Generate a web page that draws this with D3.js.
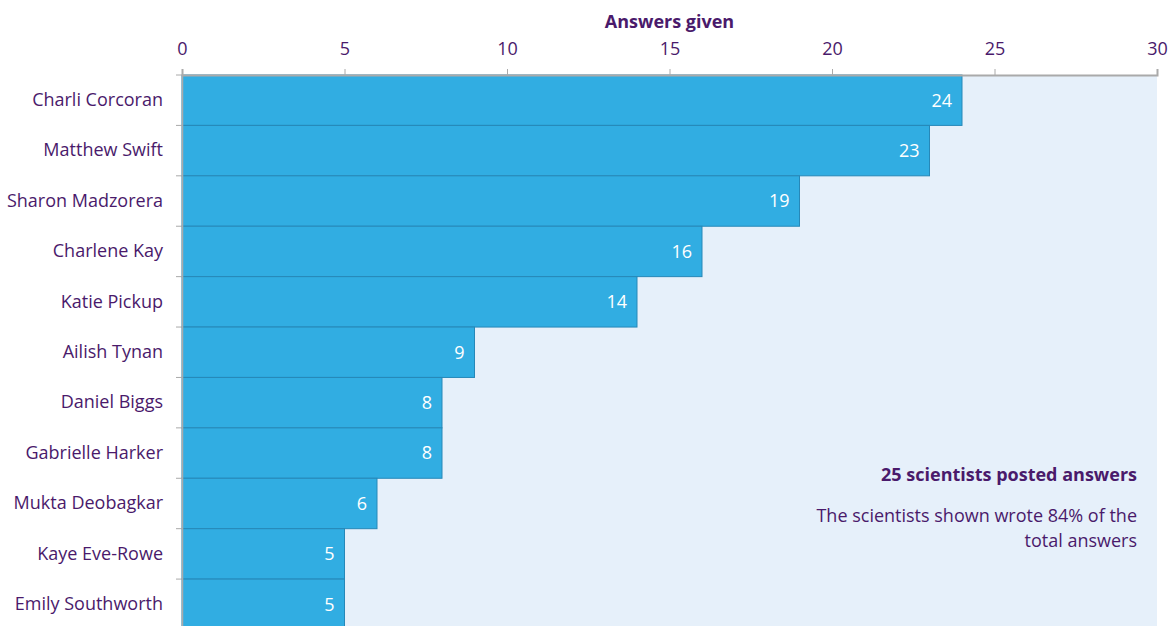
<!DOCTYPE html>
<html>
<head>
<meta charset="utf-8">
<script src="https://cdn.jsdelivr.net/npm/d3@7"></script>
<style>
  body { margin: 0; background: #fff; }
  text { font-family: "Open Sans", "Noto Sans", sans-serif; }
</style>
</head>
<body>
<div id="graphic"></div>
<script>
// data
const names = ["Charli Corcoran", "Matthew Swift", "Sharon Madzorera", "Charlene Kay", "Katie Pickup",
  "Ailish Tynan", "Daniel Biggs", "Gabrielle Harker", "Mukta Deobagkar", "Kaye Eve-Rowe", "Emily Southworth"];
const answers = [24, 23, 19, 16, 14, 9, 8, 8, 6, 5, 5];
const xTicks = [0, 5, 10, 15, 20, 25, 30];
const noteTitle = "25 scientists posted answers";
const noteLines = ["The scientists shown wrote 84% of the", "total answers"];

const purple = "#4a1a6b";
const W = 1174, H = 626;
const fs = "18px";

const svg = d3.select("#graphic")
    .append("svg")
    .attr("width", W)
    .attr("height", H);

const x = d3.scaleLinear().domain([0, 30]).range([182, 1157]);
const y = d3.scaleBand().domain(names).range([75, 629.5]).padding(0);

// plot background
svg.append("rect")
    .attr("x", x(0)).attr("y", 75)
    .attr("width", x(30) - x(0)).attr("height", H - 75)
    .attr("fill", "#e6f0fa");

// bars
svg.append("g")
    .selectAll("rect")
    .data(names)
    .join("rect")
    .attr("x", x(0))
    .attr("y", d => y(d))
    .attr("width", (d, i) => x(answers[i]) - x(0))
    .attr("height", y.bandwidth())
    .attr("fill", "#31ade2")
    .attr("stroke", "#2688b8")
    .attr("stroke-width", 1);

// value labels
svg.append("g")
    .selectAll("text")
    .data(names)
    .join("text")
    .attr("x", (d, i) => x(answers[i]) - 10)
    .attr("y", d => y(d) + y.bandwidth() / 2)
    .attr("dy", "0.35em")
    .attr("text-anchor", "end")
    .attr("fill", "#fff")
    .style("font-size", fs)
    .text((d, i) => answers[i]);

// top axis
const xAxis = svg.append("g")
    .attr("transform", "translate(0,75)")
    .call(d3.axisTop(x).tickValues(xTicks).tickSize(6).tickPadding(14));
xAxis.select(".domain").attr("stroke", "#aaa").attr("stroke-width", 2);
xAxis.selectAll(".tick line").attr("stroke", "#aaa");
xAxis.selectAll(".tick text")
    .attr("fill", purple)
    .style("font-size", fs)
    .style("font-family", "'Open Sans', 'Noto Sans', sans-serif");

// left axis
const yAxis = svg.append("g")
    .attr("transform", `translate(${x(0)},0)`)
    .call(d3.axisLeft(y).tickSize(0).tickPadding(19));
yAxis.select(".domain").attr("stroke", "#aaa").attr("stroke-width", 1.5);
yAxis.selectAll(".tick text")
    .attr("fill", purple)
    .style("font-size", fs)
    .style("font-family", "'Open Sans', 'Noto Sans', sans-serif");

// tick marks between bands
svg.append("g")
    .selectAll("line")
    .data(names)
    .join("line")
    .attr("x1", x(0) - 6).attr("x2", x(0))
    .attr("y1", d => y(d)).attr("y2", d => y(d))
    .attr("stroke", "#aaa");

// axis title
svg.append("text")
    .attr("x", (x(0) + x(30)) / 2)
    .attr("y", 28)
    .attr("text-anchor", "middle")
    .attr("fill", purple)
    .style("font-size", fs)
    .style("font-weight", "bold")
    .text("Answers given");

// note
svg.append("text")
    .attr("x", 1137).attr("y", 481)
    .attr("text-anchor", "end")
    .attr("fill", purple)
    .style("font-size", fs)
    .style("font-weight", "bold")
    .text(noteTitle);

svg.append("g")
    .selectAll("text")
    .data(noteLines)
    .join("text")
    .attr("x", 1137)
    .attr("y", (d, i) => 522 + i * 25)
    .attr("text-anchor", "end")
    .attr("fill", purple)
    .style("font-size", fs)
    .text(d => d);
</script>
</body>
</html>
